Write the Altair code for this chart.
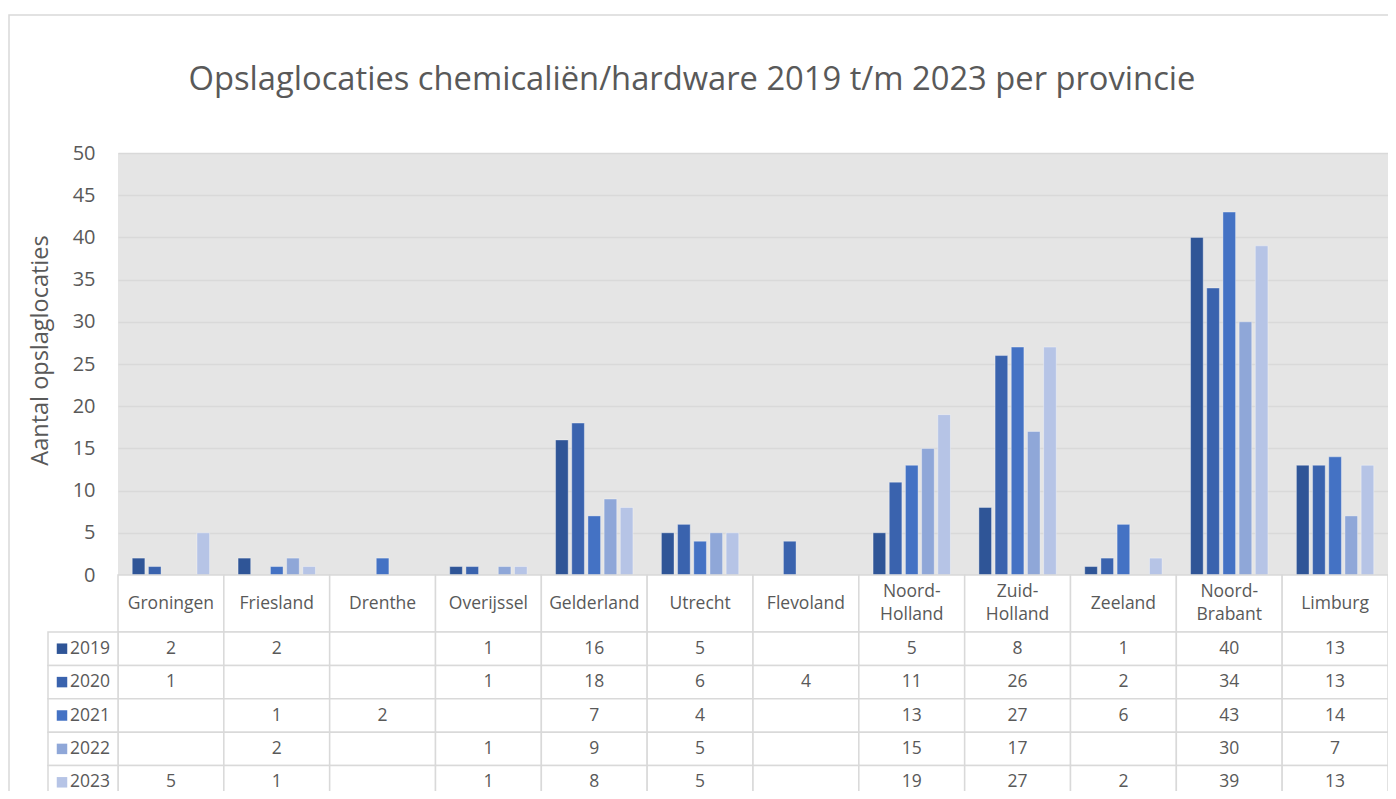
import altair as alt
import pandas as pd

provinces = ["Groningen", "Friesland", "Drenthe", "Overijssel", "Gelderland", "Utrecht",
             "Flevoland", "Noord-Holland", "Zuid-Holland", "Zeeland", "Noord-Brabant", "Limburg"]
header_labels = ["Groningen", "Friesland", "Drenthe", "Overijssel", "Gelderland", "Utrecht",
                 "Flevoland", "Noord-\nHolland", "Zuid-\nHolland", "Zeeland", "Noord-\nBrabant", "Limburg"]
years = ["2019", "2020", "2021", "2022", "2023"]
v2019 = [2, 2, None, 1, 16, 5, None, 5, 8, 1, 40, 13]
v2020 = [1, None, None, 1, 18, 6, 4, 11, 26, 2, 34, 13]
v2021 = [None, 1, 2, None, 7, 4, None, 13, 27, 6, 43, 14]
v2022 = [None, 2, None, 1, 9, 5, None, 15, 17, None, 30, 7]
v2023 = [5, 1, None, 1, 8, 5, None, 19, 27, 2, 39, 13]
colors = ["#2F5597", "#3A63AE", "#4472C4", "#8FA7D8", "#B6C4E6"]

FONT = "Open Sans"
TXT = "#595959"
LINE = "#D9D9D9"
W, H = 1270, 422
HEADER_H = 57
ROW_H = 33.4

series = [v2019, v2020, v2021, v2022, v2023]
rows = []
for y, vals in zip(years, series):
    for p, v in zip(provinces, vals):
        if v is not None:
            rows.append({"province": p, "year": y, "value": v})
df = pd.DataFrame(rows)

cells = pd.DataFrame([{"province": p, "year": y} for y in years for p in provinces])
heads = pd.DataFrame({"province": provinces, "label": header_labels})
heads["two"] = heads["label"].str.contains("\n")
heads1 = heads[~heads["two"]]
heads2 = heads[heads["two"]]
yrs = pd.DataFrame({"year": years})
one = pd.DataFrame({"k": [0]})

xscale = alt.Scale(domain=provinces, paddingInner=0, paddingOuter=0)
cscale = alt.Scale(domain=years, range=colors)
row_scale = alt.Scale(domain=years, range=[H + HEADER_H, H + HEADER_H + 5 * ROW_H],
                      paddingInner=0, paddingOuter=0)

border = alt.Chart(one).mark_rect(fill="white", fillOpacity=0, stroke=LINE, strokeWidth=1.5).encode(
    x=alt.value(-109), x2=alt.value(W + 200), y=alt.value(-138), y2=alt.value(H + 400))

bars = alt.Chart(df).mark_bar(stroke="white", strokeOpacity=0.35, strokeWidth=1).encode(
    x=alt.X("province:N", scale=xscale, axis=None),
    xOffset=alt.XOffset("year:N", scale=alt.Scale(domain=years, paddingInner=0.22, paddingOuter=0.88)),
    y=alt.Y("value:Q", scale=alt.Scale(domain=[0, 50]),
            axis=alt.Axis(title="Aantal opslaglocaties", values=list(range(0, 51, 5)),
                          grid=True, gridColor=LINE, gridWidth=1.5, domain=False, ticks=False,
                          labelPadding=23, labelFontSize=20, labelFont=FONT, labelColor=TXT,
                          titleFont=FONT, titleFontSize=23.5, titleColor=TXT, titleFontWeight="normal",
                          titlePadding=20, titleY=197)),
    color=alt.Color("year:N", scale=cscale, legend=None),
)

head_cells = alt.Chart(heads).mark_rect(fill="white", stroke=LINE, strokeWidth=1.5).encode(
    x=alt.X("province:N", scale=xscale, axis=None),
    y=alt.value(H), y2=alt.value(H + HEADER_H))

head_text1 = alt.Chart(heads1).mark_text(font=FONT, fontSize=17.5, color=TXT,
                                         baseline="middle").encode(
    x=alt.X("province:N", scale=xscale, axis=None),
    y=alt.value(H + HEADER_H / 2),
    text="label:N")

head_text2 = alt.Chart(heads2).mark_text(font=FONT, fontSize=17.5, color=TXT, lineBreak="\n",
                                         lineHeight=23, baseline="middle", dy=-11.5).encode(
    x=alt.X("province:N", scale=xscale, axis=None),
    y=alt.value(H + HEADER_H / 2),
    text="label:N")

grid_cells = alt.Chart(cells).mark_rect(fill="white", stroke=LINE, strokeWidth=1.5).encode(
    x=alt.X("province:N", scale=xscale, axis=None),
    y=alt.Y("year:N", scale=row_scale, axis=None))

leg_cells = alt.Chart(yrs).mark_rect(fill="white", stroke=LINE, strokeWidth=1.5).encode(
    x=alt.value(-70), x2=alt.value(0),
    y=alt.Y("year:N", scale=row_scale, axis=None))

leg_sq = alt.Chart(yrs).mark_square(size=110, opacity=1).encode(
    x=alt.value(-56),
    y=alt.Y("year:N", scale=row_scale, axis=None),
    color=alt.Color("year:N", scale=cscale, legend=None))

leg_txt = alt.Chart(yrs).mark_text(font=FONT, fontSize=17.5, color=TXT, align="left",
                                   baseline="middle").encode(
    x=alt.value(-48),
    y=alt.Y("year:N", scale=row_scale, axis=None),
    text="year:N")

val_txt = alt.Chart(df).mark_text(font=FONT, fontSize=17.5, color=TXT, baseline="middle").encode(
    x=alt.X("province:N", scale=xscale, axis=None),
    y=alt.Y("year:N", scale=row_scale, axis=None),
    text="value:Q")

chart = alt.layer(
    border, bars, head_cells, head_text1, head_text2, grid_cells, leg_cells, leg_sq, leg_txt, val_txt
).resolve_scale(y="independent").properties(
    width=W, height=H,
    background="white",
    title=alt.TitleParams("Opslaglocaties chemicaliën/hardware 2019 t/m 2023 per provincie",
                          font=FONT, fontSize=32.7, color=TXT, fontWeight="normal",
                          anchor="middle", frame="group", baseline="alphabetic",
                          dx=-61, offset=-108.75),
    autosize=alt.AutoSizeParams(type="none"),
    padding={"left": 110, "top": 145, "right": 0, "bottom": 216},
).configure_view(fill="#E5E5E5", stroke=None)

chart.save("out.html", embed_options={"renderer": "svg", "actions": False})
